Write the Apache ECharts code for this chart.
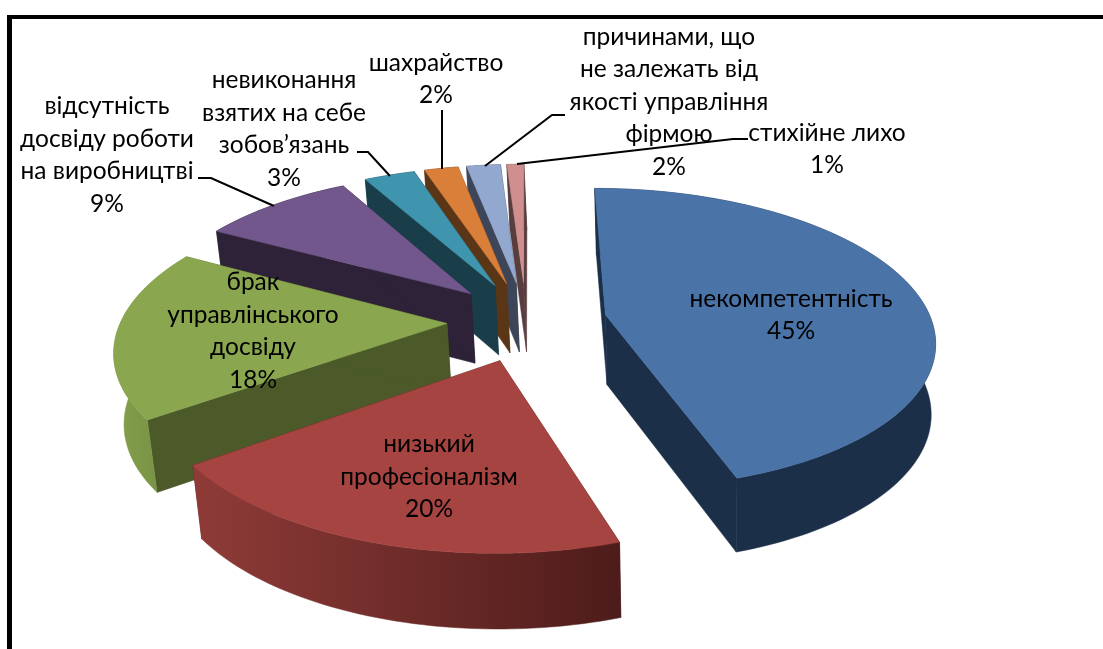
<!DOCTYPE html>
<html>
<head>
<meta charset="utf-8">
<style>
  html, body { margin: 0; padding: 0; background: #fff; }
  #chart { width: 1103px; height: 649px; }
</style>
<script src="https://cdn.jsdelivr.net/npm/echarts@6/dist/echarts.min.js"></script>
</head>
<body>
<div id="chart"></div>
<script>
// values, clockwise from 12 o'clock
var categories = [
  'некомпетентність', 'низький\nпрофесіоналізм', 'брак\nуправлінського\nдосвіду',
  'відсутність\nдосвіду роботи\nна виробництві', 'невиконання\nвзятих на себе\nзобов’язань',
  'шахрайство', 'причинами, що\nне залежать від\nякості управління\nфірмою', 'стихійне лихо'
];
var shares = [45, 20, 18, 9, 3, 2, 2, 1];

// colours per slice
var topColors = ['#4a73a8', '#a64442', '#8aa64f', '#72578d', '#4095ae', '#d97f3a', '#93a8ce', '#cf8f8e'];
var sideColors = ['#1b2f48', '#4f1e1c', '#4b5a28', '#2d2238', '#1a3d4a', '#5a3617', '#3d4659', '#573d3e'];
var outerFrom = ['#1b2f48', '#8f3b38', '#84a04b', '#2d2238', '#1a3d4a', '#5a3617', '#3d4659', '#573d3e'];
var outerTo = ['#1b2f48', '#4d1c1a', '#6f883f', '#2d2238', '#1a3d4a', '#5a3617', '#3d4659', '#573d3e'];

// label layout, in screen pixels: [centre x, centre y]
var labelAnchors = [[791, 315], [429, 477], [253, 331], [107, 155], [284, 129], [436, 79], [669, 102], [827, 149]];
// leader lines, in screen pixels
var leaderLines = [
  null, null, null,
  [[198, 178], [211, 178], [274, 206]],
  [[357, 152], [368, 152], [390, 176]],
  [[442, 110], [442, 169]],
  [[565, 115], [552, 115], [485, 166]],
  [[748, 139], [733, 139], [517, 164]]
];
// back to front
var drawOrder = [7, 6, 5, 4, 3, 2, 1, 0];

// pie geometry
var cx = 526, cy = 321;
var radius = 326, explodes = [81, 81, 79, 80, 81, 81, 81, 81];
var tilt = 0.494, squash = 0.92, viewDist = 1900;
var wallHeight = 70, bottomCx = 690, bottomScaleX = 0.982, bottomScaleY = 0.95;

function project(px, py) {
  var s = viewDist / (viewDist - py);
  return [cx + px * s, cy + py * tilt * s, s];
}
function topPoint(apex, a, r) {
  return project(apex[0] + r * Math.sin(a), apex[1] - r * squash * Math.cos(a));
}
function lower(p) {
  return [bottomCx + (p[0] - bottomCx) * bottomScaleX, cy + (p[1] - cy) * bottomScaleY + wallHeight * p[2]];
}

function renderSlice(params, api) {
  var i = params.dataIndex;
  var total = shares.reduce(function (a, b) { return a + b; }, 0);
  var before = 0;
  for (var k = 0; k < i; k++) before += shares[k];
  var a0 = before / total * Math.PI * 2;
  var a1 = (before + api.value(0)) / total * Math.PI * 2;
  var mid = (a0 + a1) / 2;
  var apex = [explodes[i] * Math.sin(mid), -explodes[i] * Math.cos(mid)];

  var steps = Math.max(6, Math.round((a1 - a0) * 40));
  var arc = [];
  for (var n = 0; n <= steps; n++) arc.push(topPoint(apex, a0 + (a1 - a0) * n / steps, radius));
  var centre = project(apex[0], apex[1]);

  var rank = drawOrder.indexOf(i) * 10;
  function poly(pts, fill, z) {
    return {
      type: 'polygon', z2: rank + z, silent: true,
      shape: { points: pts.map(function (p) { return [p[0], p[1]]; }) },
      style: { fill: fill, stroke: fill, lineWidth: 0.5 }
    };
  }
  var outerGrad = new echarts.graphic.LinearGradient(0, 0, 1, 0, [
    { offset: 0, color: outerFrom[i] }, { offset: 1, color: outerTo[i] }
  ]);
  var arcLow = arc.map(lower).reverse();
  var first = arc[0], last = arc[arc.length - 1];
  var children = [
    poly([centre, first, lower(first), lower(centre)], sideColors[i], 0),
    poly([centre, last, lower(last), lower(centre)], sideColors[i], 0),
    poly(arc.concat(arcLow), outerGrad, 1),
    poly([centre].concat(arc), topColors[i], 2)
  ];

  if (leaderLines[i]) {
    children.push({
      type: 'polyline', z2: 1000, silent: true,
      shape: { points: leaderLines[i] },
      style: { stroke: '#000', lineWidth: 2, fill: 'none' }
    });
  }
  children.push({
    type: 'text', z2: 1001, silent: true,
    style: {
      x: labelAnchors[i][0], y: labelAnchors[i][1],
      text: categories[i] + '\n' + api.value(0) + '%',
      align: 'center', verticalAlign: 'middle',
      fontFamily: 'Lato', fontSize: 24.5, lineHeight: 32.5, fill: '#000'
    }
  });
  return { type: 'group', children: children };
}

var chart = echarts.init(document.getElementById('chart'));
chart.setOption({
  animation: false,
  backgroundColor: '#fff',
  graphic: [
    { type: 'rect', silent: true, shape: { x: 7, y: 15, width: 1096, height: 4 }, style: { fill: '#000' } },
    { type: 'rect', silent: true, shape: { x: 7, y: 15, width: 5, height: 634 }, style: { fill: '#000' } }
  ],
  series: [{
    type: 'custom',
    coordinateSystem: 'none',
    renderItem: renderSlice,
    data: shares.map(function (v) { return [v]; }),
    clip: false
  }]
});
</script>
</body>
</html>
